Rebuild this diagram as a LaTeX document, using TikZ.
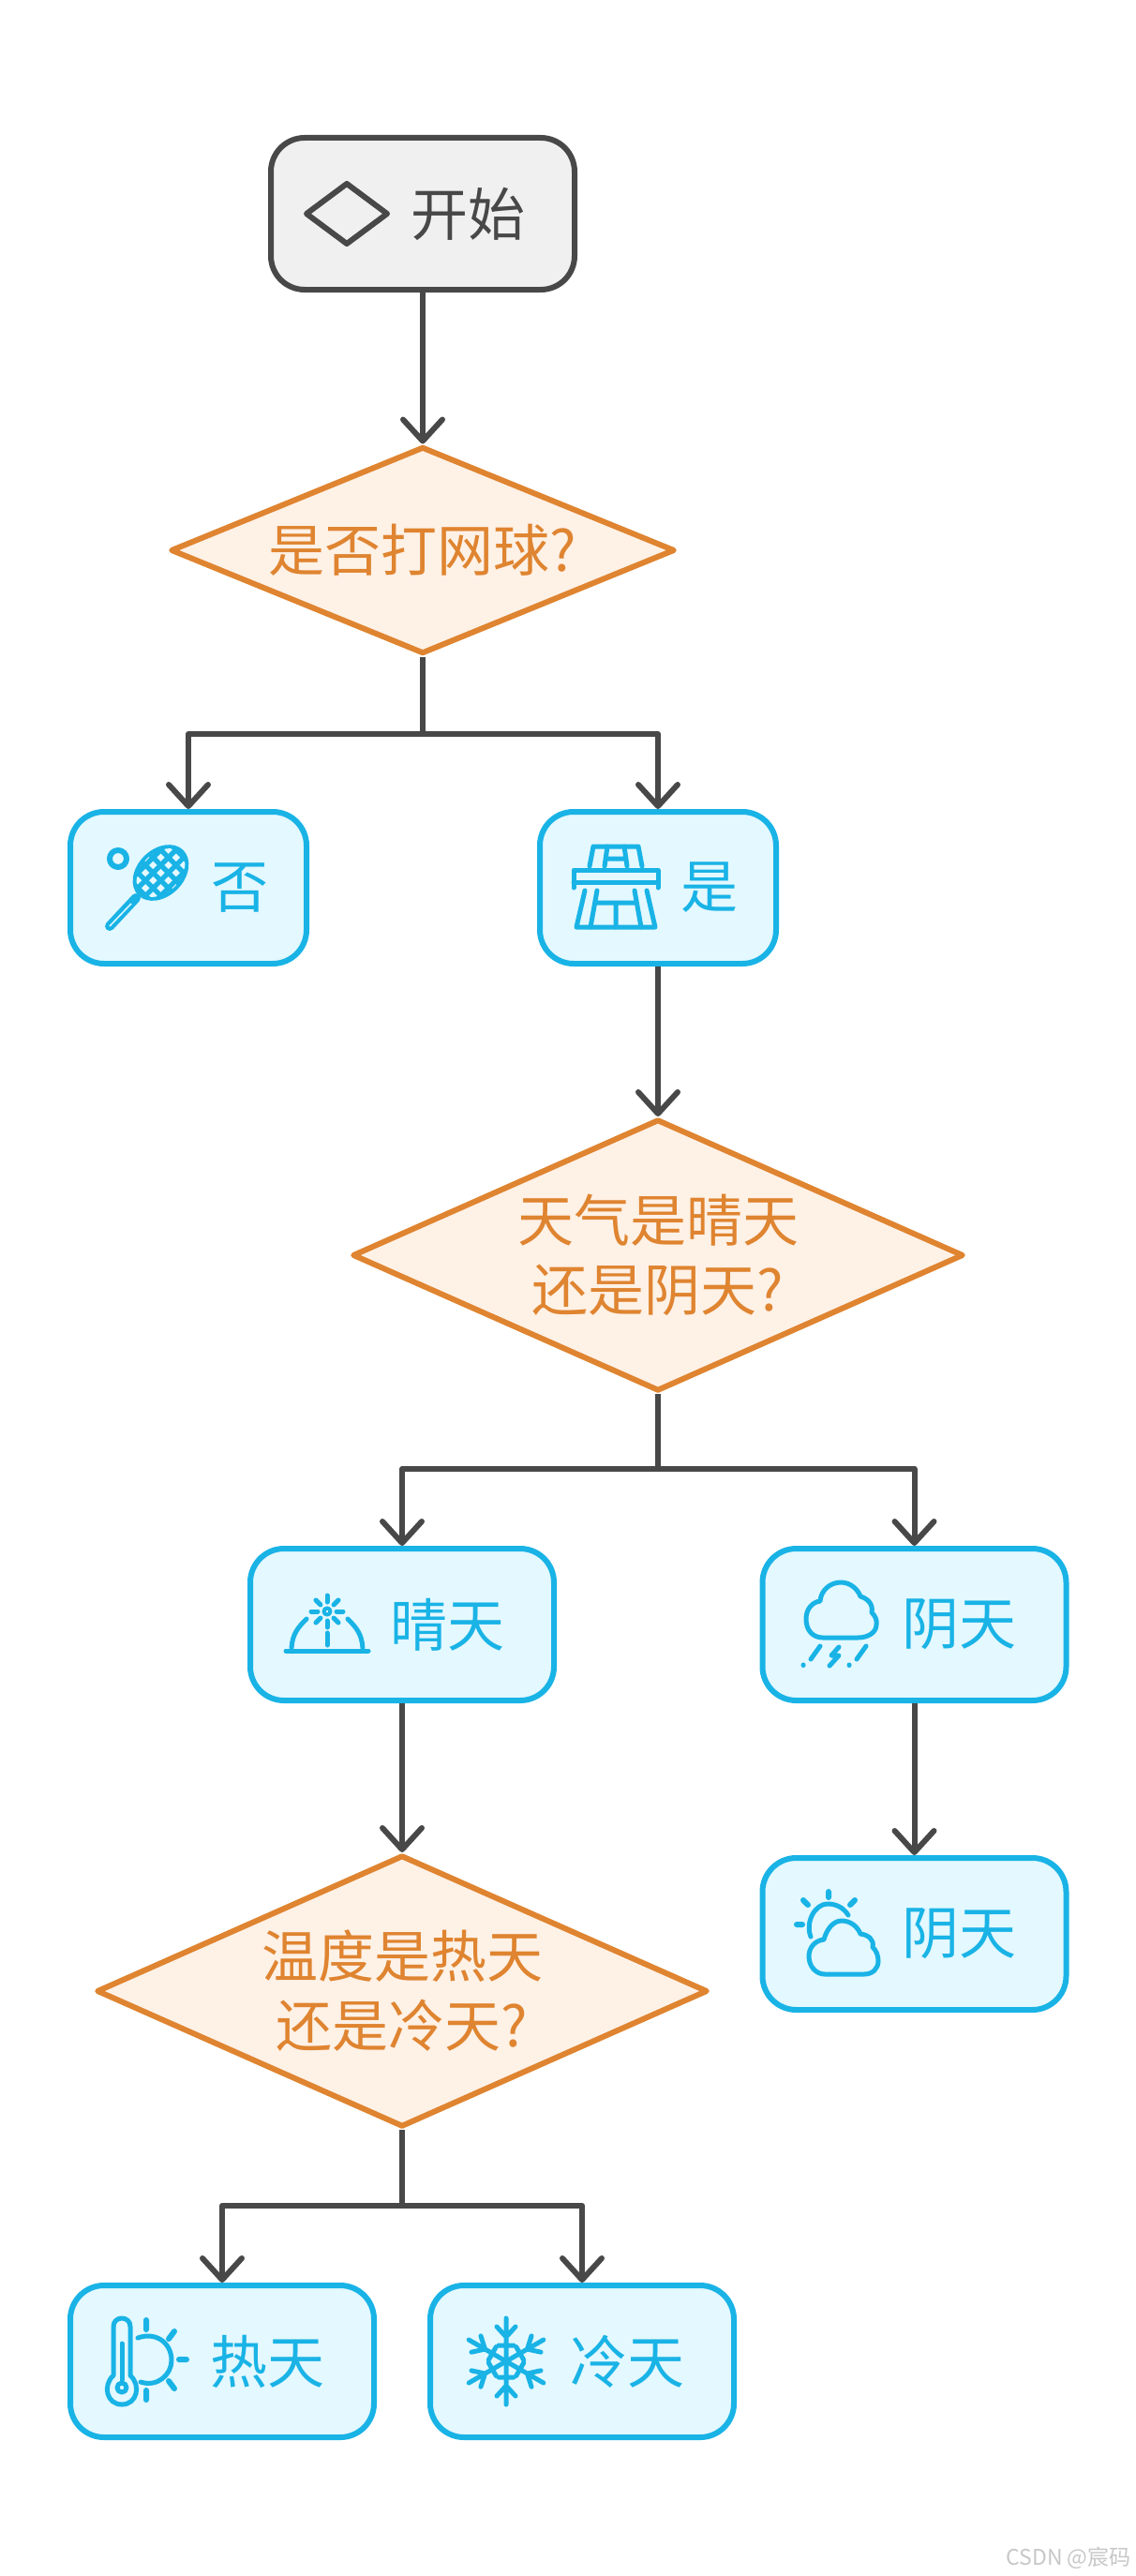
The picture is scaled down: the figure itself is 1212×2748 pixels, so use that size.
\documentclass[tikz,border=0pt]{standalone}
\usepackage{fontspec}
\setmainfont{Noto Sans CJK SC}
\usetikzlibrary{arrows.meta,shapes.geometric}
\definecolor{boxline}{HTML}{19B3E6}
\definecolor{boxfill}{HTML}{E3F8FF}
\definecolor{askline}{HTML}{DF8430}
\definecolor{askfill}{HTML}{FEF1E6}
\definecolor{startfill}{HTML}{F0F0F0}
\definecolor{darkline}{HTML}{484848}

% icons, each drawn round its own centre
\tikzset{
    iconpen/.style={draw=boxline, line width=5pt, line cap=round, line join=round},
    starticon/.pic={
        \draw[draw=darkline, line width=6pt, line join=round] (-43,0) -- (0,-32) -- (43,0) -- (0,32) -- cycle;
    },
    tennisicon/.pic={
        \begin{scope}[shift={(15.5,-16)}, rotate=45]
            \fill[boxline] (0,0) ellipse [x radius=34pt, y radius=25pt];
            \clip (0,0) ellipse [x radius=30pt, y radius=21pt];
            \foreach \i in {-3,...,3} \foreach \j in {-2,...,2}
                \fill[boxfill] (\i*11.5-3,\j*11.5-3) rectangle ++(6,6);
        \end{scope}
        \draw[iconpen, line width=10pt] (-11,11) -- (-39,41);
        \draw[draw=boxfill, line width=1.5pt] (-16,17) -- (-39,41);
        \draw[iconpen, line width=6pt] (-30,-31) circle [radius=9pt];
    },
    gateicon/.pic={
        \draw[iconpen] (-28,-23) -- (-24,-44) -- (24,-44) -- (28,-23);
        \draw[iconpen] (-12,-23) -- (-9,-44) (12,-23) -- (9,-44) (-11,-31) -- (11,-31);
        \draw[iconpen] (-45,0) -- (-45,-19) -- (45,-19) -- (45,0) (-45,-6) -- (45,-6);
        \draw[iconpen] (-33,3) -- (-42,42) -- (42,42) -- (33,3);
        \draw[iconpen] (-20,3) -- (-27,42) (20,3) -- (27,42) (-22,16) -- (22,16) (0,16) -- (0,42);
    },
    domeicon/.pic={
        \draw[iconpen] (-44,28) -- (44,28);
        \draw[iconpen] (-38,25) .. controls (-37,10) and (-31,3) .. (-22,-6);
        \draw[iconpen] (38,25) .. controls (37,10) and (31,3) .. (22,-6);
        \draw[iconpen, line width=4pt] (0,-14) circle [radius=3.5pt];
        \foreach \a in {0,45,...,315}
            \draw[iconpen] (0,-14) ++(\a:10) -- ++(\a:7);
        \draw[iconpen] (0,9) -- (0,22);
    },
    rainicon/.pic={
        \draw[iconpen] (-19,14) .. controls (-30,14) and (-37,6) .. (-37,-6)
            .. controls (-37,-17) and (-30,-24) .. (-22,-25)
            .. controls (-21,-37) and (-11,-45) .. (0,-45)
            .. controls (10,-45) and (18,-38) .. (21,-30)
            .. controls (28,-28) and (35,-22) .. (33,-13)
            .. controls (37,-9) and (39,-4) .. (38,0)
            .. controls (38,8) and (30,14) .. (18,14) -- cycle;
        \draw[iconpen] (-22,23) -- (-32,37) (-40,43) -- (-40,43.5);
        \draw[iconpen] (27,23) -- (17,37) (9,43) -- (9,43.5);
        \draw[iconpen] (-2,24) -- (-10,33) -- (-2,33) -- (-12,44);
    },
    sunnyicon/.pic={
        \draw[iconpen] (-14,43) .. controls (-24,43) and (-31,34) .. (-31,24)
            .. controls (-31,14) and (-24,7) .. (-15,6)
            .. controls (-12,-5) and (-5,-14) .. (4,-14)
            .. controls (13,-14) and (21,-8) .. (24,0)
            .. controls (32,1) and (39,6) .. (37,14)
            .. controls (41,18) and (43,23) .. (43,29)
            .. controls (43,37) and (37,43) .. (28,43) -- cycle;
        \draw[iconpen] (-29,3) .. controls (-35,-12) and (-25,-32) .. (-11,-32)
            .. controls (-2,-32) and (6,-28) .. (11,-20);
        \draw[iconpen, line width=6pt] (-10,-45) -- (-10,-39) (-37,-36) -- (-32,-31)
            (18,-36) -- (13,-31) (-44,-10) -- (-38,-10);
    },
    hoticon/.pic={
        \draw[iconpen] (-35,15) -- (-35,-37) .. controls (-35,-49) and (-17,-49) .. (-17,-37) -- (-17,15)
            .. controls (-5,26) and (-10,46) .. (-26,46) .. controls (-42,46) and (-47,26) .. (-35,15);
        \draw[iconpen] (-26,-19) -- (-26,20);
        \draw[iconpen] (-26,28) circle [radius=5pt];
        \draw[iconpen] (-9,-25) .. controls (10,-32) and (27,-20) .. (27,-1)
            .. controls (27,14) and (12,28) .. (-6,22);
        \draw[iconpen, line width=6pt] (0,-44) -- (0,-34) (30,-32) -- (24,-24) (35,-2) -- (43,-2)
            (24,21) -- (30,29) (0,31) -- (0,41);
    },
    snowicon/.pic={
        \foreach \a in {0,60,...,300}
            \draw[iconpen, rotate=\a] (0,0) -- (0,46) (-10,37) -- (0,26) -- (10,37) (-8,17) -- (8,17);
    }
}

\begin{document}
\begin{tikzpicture}[
    x=1pt, y=-1pt,
    startbox/.style={rectangle, rounded corners=36pt, draw=darkline, fill=startfill, line width=6pt,
        text=darkline, font=\fontsize{61}{75}\selectfont, minimum height=162pt, inner ysep=0pt,
        inner xsep=53pt, text width=218pt, align=right},
    infobox/.style={rectangle, rounded corners=36pt, draw=boxline, fill=boxfill, line width=6pt,
        text=boxline, font=\fontsize{61}{75}\selectfont, minimum height=162pt, inner ysep=0pt,
        inner xsep=41pt, text width=170pt, align=right},
    widebox/.style={infobox, inner xsep=53pt, text width=218pt},
    choice/.style={diamond, draw=askline, fill=askfill, line width=6pt, line join=round, text=askline,
        font=\fontsize{60}{74}\selectfont, inner sep=0pt, align=center},
    edge/.style={draw=darkline, line width=6pt, line join=round,
        -{Straight Barb[length=23pt, width=42pt, round]}},
    pale/.style={text=black!22, font=\fontsize{23}{23}\selectfont}
]
\useasboundingbox (0,0) rectangle (1212,2748);

\node[startbox] (start) at (451,228) {开始};
\node[choice, shape aspect=2.44, minimum width=538pt, minimum height=221pt] (playask) at (451,587) {是否打网球?};
\node[infobox] (no) at (201,947) {否};
\node[infobox] (yes) at (702,947) {是};
\node[choice, shape aspect=2.24, minimum width=652pt, minimum height=290pt] (skyask) at (702,1339) {天气是晴天\\还是阴天?};
\node[widebox] (clear) at (429,1733) {晴天};
\node[widebox] (rain) at (975.5,1733) {阴天};
\node[widebox] (cloudy) at (975.5,2063) {阴天};
\node[choice, shape aspect=2.24, minimum width=652pt, minimum height=290pt] (tempask) at (429,2124) {温度是热天\\还是冷天?};
\node[widebox] (hot) at (237,2519) {热天};
\node[widebox] (cold) at (621,2519) {冷天};

\pic at (370,228) {starticon};
\pic at (156,947) {tennisicon};
\pic at (657,947) {gateicon};
\pic at (349,1733) {domeicon};
\pic at (897,1733) {rainicon};
\pic at (894,2063) {sunnyicon};
\pic at (156,2519) {hoticon};
\pic at (540,2519) {snowicon};

\coordinate (playfork) at (451,783);
\coordinate (skyfork) at (702,1567);
\coordinate (tempfork) at (429,2353);

\draw[edge] (start) -- (playask);
\draw[edge] (playask.south) -- (playfork) -| (no.north);
\draw[edge] (playask.south) -- (playfork) -| (yes.north);
\draw[edge] (yes) -- (skyask);
\draw[edge] (skyask.south) -- (skyfork) -| (clear.north);
\draw[edge] (skyask.south) -- (skyfork) -| (rain.north);
\draw[edge] (clear) -- (tempask);
\draw[edge] (rain) -- (cloudy);
\draw[edge] (tempask.south) -- (tempfork) -| (hot.north);
\draw[edge] (tempask.south) -- (tempfork) -| (cold.north);

\node[pale] (watermark) at (1140,2729) {CSDN @宸码};
\end{tikzpicture}
\end{document}
